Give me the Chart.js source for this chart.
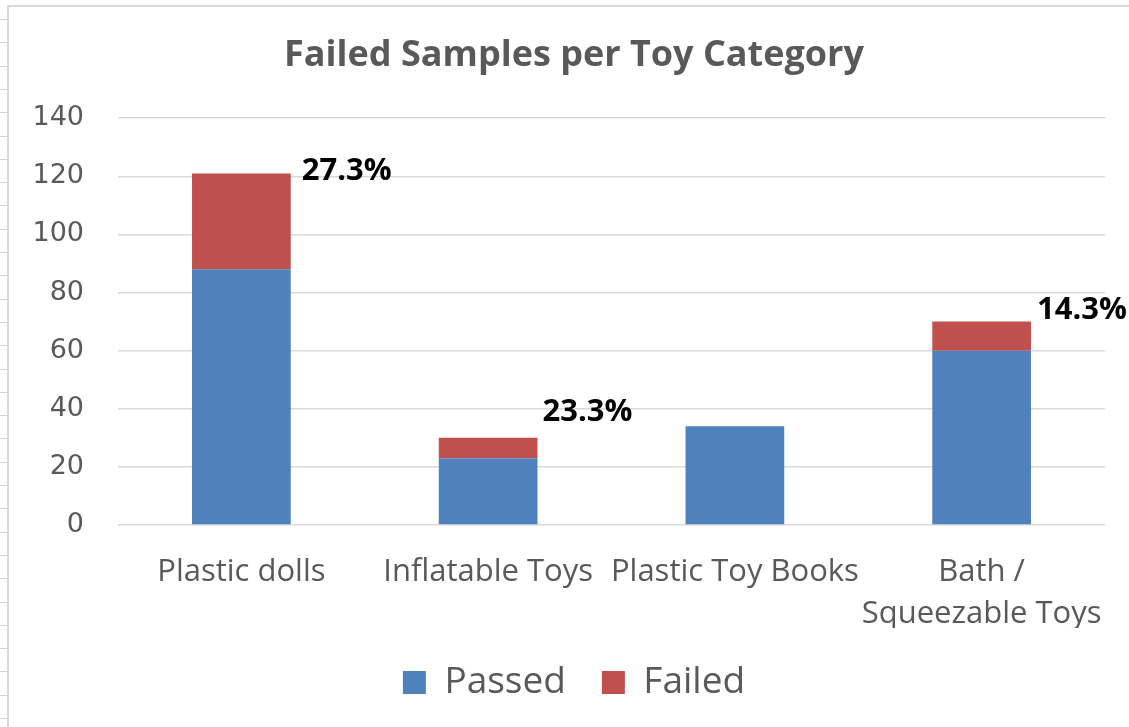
<!DOCTYPE html>
<html>
<head>
<meta charset="utf-8">
<script src="https://cdn.jsdelivr.net/npm/chart.js@4.4.1/dist/chart.umd.min.js"></script>
<style>
    body { margin: 0; background: #fff; overflow: hidden; width: 1129px; height: 727px; position: relative; }
    #ruler { position: absolute; left: 0; top: 0; width: 7px; height: 727px;
        background: repeating-linear-gradient(to bottom, transparent 0px, transparent 19px, #d4d4d4 19px, #d4d4d4 20px, transparent 20px, transparent 23.3px); }
    #frame { position: absolute; left: 7px; top: 5px; right: 0; bottom: 0; border-left: 2px solid #d9d9d9; border-top: 2px solid #d9d9d9; }
    #wrap { position: absolute; left: 9px; top: 7px; width: 1120px; height: 704px; }
</style>
</head>
<body>
<div id="ruler"></div>
<div id="frame"></div>
<div id="wrap"><canvas id="grafico"></canvas></div>
<script>
const categorias = ['Plastic dolls', 'Inflatable Toys', 'Plastic Toy Books', ['Bath /', 'Squeezable Toys']];
const aprovados = [88, 23, 34, 60];
const reprovados = [33, 7, 0, 10];
const ticksY = [0, 20, 40, 60, 80, 100, 120, 140];

// ajuste fino dos rótulos de porcentagem (px)
const deslocX = [11, 5, 0, 6];
const deslocY = [-2, -26, 0, -11];

const cinza = '#595959';
const fonte = "'Open Sans', sans-serif";

const rotulosPorcentagem = {
    id: 'rotulosPorcentagem',
    beforeDraw(chart) {
        // deixa os rótulos do eixo y passarem do padding da esquerda sem serem cortados
        chart.scales.y.left = 0;
    },
    afterDatasetsDraw(chart) {
        const ctx = chart.ctx;
        const meta = chart.getDatasetMeta(1);
        ctx.save();
        ctx.font = `bold 31px ${fonte}`;
        ctx.fillStyle = '#000';
        ctx.textAlign = 'left';
        ctx.textBaseline = 'middle';
        meta.data.forEach((bar, i) => {
            const falhas = reprovados[i];
            if (!falhas) return;
            const total = aprovados[i] + falhas;
            const pct = (falhas / total * 100).toFixed(1) + '%';
            ctx.fillText(pct, bar.x + bar.width / 2 + deslocX[i], bar.y + deslocY[i]);
        });
        ctx.restore();
    }
};

new Chart(document.getElementById('grafico'), {
    type: 'bar',
    data: {
        labels: categorias,
        datasets: [
            { label: 'Passed', data: aprovados, backgroundColor: '#4F81BD', categoryPercentage: 1, barPercentage: 0.4 },
            { label: 'Failed', data: reprovados, backgroundColor: '#C0504D', categoryPercentage: 1, barPercentage: 0.4 }
        ]
    },
    options: {
        responsive: true,
        maintainAspectRatio: false,
        animation: false,
        layout: { padding: { left: 34, right: 24, top: 0, bottom: 0 } },
        plugins: {
            title: {
                display: true,
                text: 'Failed Samples per Toy Category',
                color: cinza,
                font: { family: fonte, size: 36, weight: 'bold' },
                padding: { top: 27, bottom: 41 }
            },
            legend: {
                position: 'bottom',
                labels: {
                    color: cinza,
                    font: { family: fonte, size: 37 },
                    boxWidth: 23,
                    boxHeight: 23,
                    padding: 36
                }
            },
            tooltip: { enabled: false }
        },
        scales: {
            x: {
                stacked: true,
                grid: { display: false },
                border: { display: false },
                ticks: {
                    color: cinza,
                    font: { family: fonte, size: 31, lineHeight: 1.33 },
                    padding: 19,
                    maxRotation: 0,
                    autoSkip: false
                },
                afterFit(scale) { scale.height = 103; }
            },
            y: {
                stacked: true,
                min: 0,
                max: 140,
                afterBuildTicks(scale) { scale.ticks = ticksY.map(v => ({ value: v })); },
                grid: { color: '#D9D9D9', lineWidth: 1.5, drawTicks: false },
                border: { display: false },
                ticks: {
                    color: cinza,
                    font: { family: "'DejaVu Sans', sans-serif", size: 27 },
                    padding: 34
                },
                afterFit(scale) { scale.width = 75; }
            }
        }
    },
    plugins: [rotulosPorcentagem]
});
</script>
</body>
</html>
